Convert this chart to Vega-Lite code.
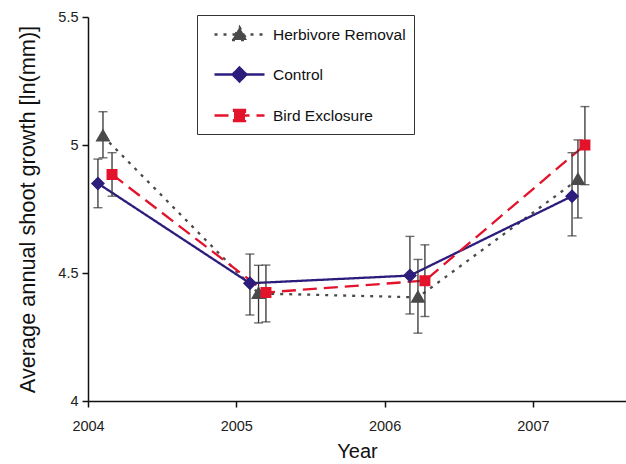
{
  "$schema": "https://vega.github.io/schema/vega-lite/v6.json",
  "autosize": "none",
  "padding": {"left": 88, "top": 17, "right": 0, "bottom": 63},
  "width": 538,
  "height": 384,
  "background": "white",
  "config": {
    "view": {"stroke": null},
    "font": "Liberation Sans",
    "axis": {"grid": false, "domainColor": "#111", "tickColor": "#111", "labelColor": "#222", "titleColor": "#111", "labelFont": "Liberation Sans", "titleFont": "Liberation Sans", "titleFontWeight": "normal", "domainWidth": 1.5, "tickWidth": 1.5, "labelFlush": false}
  },
  "data": {"values": [
    {"series": "Herbivore Removal", "t": 2004.101, "y": 5.035, "lo": 4.95, "hi": 5.13},
    {"series": "Herbivore Removal", "t": 2005.150, "y": 4.42, "lo": 4.305, "hi": 4.53},
    {"series": "Herbivore Removal", "t": 2006.225, "y": 4.405, "lo": 4.265, "hi": 4.553},
    {"series": "Herbivore Removal", "t": 2007.304, "y": 4.865, "lo": 4.715, "hi": 5.02},
    {"series": "Control", "t": 2004.067, "y": 4.85, "lo": 4.755, "hi": 4.945},
    {"series": "Control", "t": 2005.092, "y": 4.46, "lo": 4.336, "hi": 4.574},
    {"series": "Control", "t": 2006.171, "y": 4.49, "lo": 4.34, "hi": 4.643},
    {"series": "Control", "t": 2007.264, "y": 4.80, "lo": 4.645, "hi": 4.97},
    {"series": "Bird Exclosure", "t": 2004.162, "y": 4.885, "lo": 4.80, "hi": 4.97},
    {"series": "Bird Exclosure", "t": 2005.200, "y": 4.424, "lo": 4.309, "hi": 4.531},
    {"series": "Bird Exclosure", "t": 2006.272, "y": 4.47, "lo": 4.33, "hi": 4.61},
    {"series": "Bird Exclosure", "t": 2007.351, "y": 5.0, "lo": 4.845, "hi": 5.15}
  ]},
  "encoding": {
    "x": {"field": "t", "type": "quantitative", "scale": {"domain": [2004, 2007.628], "nice": false, "zero": false},
      "axis": {"values": [2004, 2005, 2006, 2007], "format": "d", "title": "Year", "labelFontSize": 14.5, "titleFontSize": 20, "labelPadding": 12, "titlePadding": 9, "tickSize": 6}},
    "y": {"field": "y", "type": "quantitative", "scale": {"domain": [4, 5.5], "nice": false, "zero": false},
      "axis": {"values": [4, 4.5, 5, 5.5], "labelExpr": "'' + datum.value", "title": "Average annual shoot growth [ln(mm)]", "labelFontSize": 14.5, "titleFontSize": 21.7, "labelPadding": 4, "titlePadding": 18, "tickSize": 6}}
  },
  "layer": [
    {
      "mark": {"type": "line", "strokeWidth": 2.3},
      "encoding": {
        "color": {"field": "series", "type": "nominal", "scale": {"domain": ["Herbivore Removal", "Control", "Bird Exclosure"], "range": ["#4a4a4a", "#2d1c7c", "#e3132c"]},
          "legend": {"title": null, "orient": "none", "legendX": 109, "legendY": -2, "padding": 8, "strokeColor": "#333", "fillColor": "white", "labelFontSize": 15.5, "labelFont": "Liberation Sans", "labelColor": "#111", "symbolSize": 400, "rowPadding": 17, "labelOffset": 22, "symbolOffset": 23, "symbolStrokeWidth": 2.3,
            "encode": {"symbols": {"update": {
              "size": {"value": 400},
              "strokeWidth": {"value": 2.3},
              "opacity": {"value": 1}
            }}}}},
        "strokeDash": {"field": "series", "type": "nominal", "scale": {"domain": ["Herbivore Removal", "Control", "Bird Exclosure"], "range": [[3, 6], [1, 0], [14, 7]]}},
        "detail": {"field": "series"}
      }
    },
    {
      "mark": {"type": "rule", "color": "#333", "strokeWidth": 1.3},
      "encoding": {"y": {"field": "lo", "type": "quantitative"}, "y2": {"field": "hi"}}
    },
    {
      "mark": {"type": "tick", "orient": "horizontal", "color": "#333", "size": 9, "thickness": 1.4},
      "encoding": {"y": {"field": "lo", "type": "quantitative"}}
    },
    {
      "mark": {"type": "tick", "orient": "horizontal", "color": "#333", "size": 9, "thickness": 1.4},
      "encoding": {"y": {"field": "hi", "type": "quantitative"}}
    },
    {
      "mark": {"type": "point", "filled": true, "opacity": 1, "size": 400, "strokeWidth": 0},
      "encoding": {
        "color": {"field": "series", "type": "nominal"},
        "shape": {"field": "series", "type": "nominal", "scale": {"domain": ["Herbivore Removal", "Control", "Bird Exclosure"], "range": ["M-2.5,0H2.5M0,-0.75L0.75,0.55L-0.75,0.55Z", "M-2.5,0H2.5M0,-0.7L0.7,0L0,0.7L-0.7,0Z", "M-2.5,0H2.5M-0.55,-0.55H0.55V0.55H-0.55Z"]}}
      }
    }
  ]
}
